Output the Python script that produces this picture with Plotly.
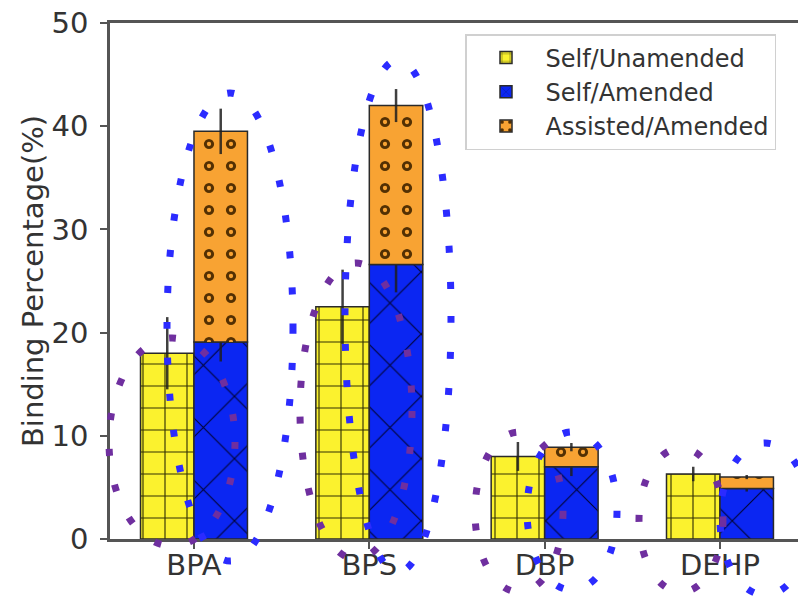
import plotly.graph_objects as go

# ---- data ----
categories = ["BPA", "BPS", "DBP", "DEHP"]
self_unamended = [18.0, 22.5, 8.0, 6.3]
self_unamended_err = [3.5, 3.6, 1.4, 0.7]
self_amended = [19.1, 26.6, 7.0, 4.9]
self_amended_err = [1.9, 2.7, 0.9, 0.3]
assisted_amended = [20.4, 15.4, 1.9, 1.1]
assisted_amended_err = [2.2, 1.6, 0.4, 0.2]
y_ticks = [0, 10, 20, 30, 40, 50]

FONT = "DejaVu Sans"
YELLOW = "#fbf22e"
BLUE = "#0b26f2"
ORANGE = "#f8a333"
EDGE = "#2a2a2a"
ERR = dict(type="data", visible=True, thickness=2.5, width=0, color="rgba(30,30,30,0.85)")

BW = 0.305

fig = go.Figure()
fig.add_trace(go.Bar(
    name="Self/Unamended", x=categories, y=self_unamended,
    offset=-BW, width=BW,
    marker=dict(color=YELLOW, line=dict(color=EDGE, width=1.5),
                pattern=dict(shape="+", size=22, solidity=0.1, fgcolor="#1a1a00", fgopacity=0.9)),
    error_y=dict(array=self_unamended_err, **ERR),
))
fig.add_trace(go.Bar(
    name="Self/Amended", x=categories, y=self_amended,
    offset=0, width=BW,
    marker=dict(color=BLUE, line=dict(color=EDGE, width=1.5),
                pattern=dict(shape="x", size=44, solidity=0.05, fgcolor="#000020", fgopacity=0.9)),
    error_y=dict(array=self_amended_err, **ERR),
))
fig.add_trace(go.Bar(
    name="Assisted/Amended", x=categories, y=assisted_amended, base=self_amended,
    offset=0, width=BW,
    marker=dict(color=ORANGE, line=dict(color=EDGE, width=1.5),
                pattern=dict(shape=".", size=22, solidity=0.17, fgcolor="#4a2a00", fgopacity=0.95)),
    error_y=dict(array=assisted_amended_err, **ERR),
))
# inner part of the ring markers
fig.add_trace(go.Bar(
    x=categories, y=assisted_amended, base=self_amended,
    offset=0, width=BW, showlegend=False, hoverinfo="skip",
    marker=dict(color="rgba(0,0,0,0)", line=dict(width=0),
                pattern=dict(shape=".", size=22, solidity=0.03, fgcolor=ORANGE,
                             bgcolor="rgba(0,0,0,0)", fgopacity=1)),
))

# ---- dotted ellipses (page pixel geometry -> paper coords) ----
W, H = 798, 597
L, R, T, B = 110, 798, 23, 539
def px(x):
    return (x - L) / (R - L)
def py(y):
    return (B - y) / (B - T)

ellipses = [
    # (cx, cy, rx, ry, color)
    (230, 327, 63, 234, "#2b2bff"),
    (172, 442, 63, 104, "#6f2f9f"),
    (398, 316, 53, 256, "#2b2bff"),
    (356, 411, 56, 148, "#6f2f9f"),
    (572, 511, 45, 79, "#2b2bff"),
    (519, 512, 44, 80, "#6f2f9f"),
    (765, 519, 45, 76, "#2b2bff"),
    (681, 520, 42, 72, "#6f2f9f"),
]
shapes = []
for cx, cy, rx, ry, col in ellipses:
    shapes.append(dict(type="circle", xref="paper", yref="paper",
                       x0=px(cx - rx), x1=px(cx + rx), y0=py(cy + ry), y1=py(cy - ry),
                       line=dict(color=col, width=7, dash="7px,29px"), layer="above"))

fig.update_layout(
    width=W, height=H,
    margin=dict(l=L, r=0, t=T, b=H - B, autoexpand=False),
    paper_bgcolor="white", plot_bgcolor="white",
    barmode="overlay",
    font=dict(family=FONT, color="#333333"),
    showlegend=True,
    legend=dict(x=px(465), y=py(34), xanchor="left", yanchor="top",
                bgcolor="white", bordercolor="#d0d0d0", borderwidth=1.5,
                font=dict(family=FONT, size=24, color="#333333"),
                itemwidth=69, tracegroupgap=0),
    shapes=shapes,
)
fig.update_xaxes(
    range=[-0.479, 3.445], showline=True, mirror=True, linecolor="#555555", linewidth=2.5,
    ticks="outside", ticklen=7, tickwidth=2, tickcolor="#555555", ticklabelstandoff=-9,
    tickfont=dict(family=FONT, size=29, color="#333333"), showgrid=False, zeroline=False,
    ticklabeloverflow="allow",
)
fig.update_yaxes(
    range=[0, 50], tickvals=y_ticks, showline=True, linecolor="#555555", linewidth=2.5,
    ticks="outside", ticklen=7, tickwidth=2, tickcolor="#555555", ticklabelstandoff=6,
    tickfont=dict(family=FONT, size=29, color="#333333"), showgrid=False, zeroline=False,
    ticklabeloverflow="allow",
    title=dict(text="Binding Percentage(%)", font=dict(family=FONT, size=29, color="#333333"), standoff=0),
)
fig.write_html("out.html", config={"displayModeBar": False},
               post_script="document.body.style.margin='0px';")
